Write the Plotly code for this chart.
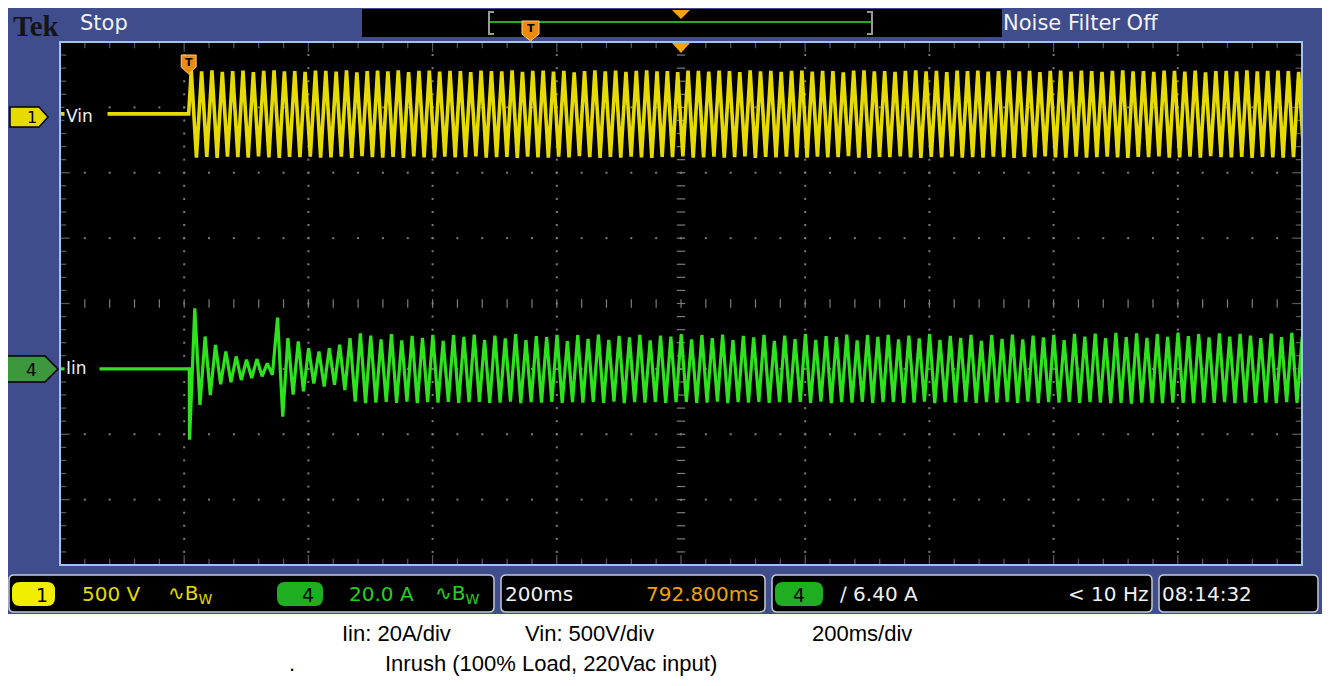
import plotly.graph_objects as go

# ---------------- data ----------------
TIME_WINDOW_MS = [-207.2, 1792.8]      # 10 div x 200 ms/div, trigger at t = 0
HALF_PERIOD_MS = 8.333                 # mains half cycle (60 Hz)
VOLTS_PER_DIV = 500.0
AMPS_PER_DIV = 20.0
VIN_GROUND_DIV = 2.9                   # ch1 ground marker (div above centre)
IIN_GROUND_DIV = -1.0                  # ch4 ground marker
IIN_START_MS = 1.5

# Vin: successive positive / negative crest values (V)
VIN_POS_PEAKS_V = [
    330, 326, 333, 321, 328, 331, 319, 329, 334, 325,
    327, 322, 332, 329, 324, 333, 318, 328, 331, 326,
    333, 320, 329, 332, 323, 330, 327, 319, 331, 328,
    325, 333, 321, 329, 332, 324, 330, 318, 328, 333,
    326, 331, 322, 329, 334, 325, 327, 320, 332, 329,
    323, 331, 328, 319, 333, 326, 330, 322, 329, 332,
    324, 330, 327, 318, 331, 333, 325, 328, 321, 330,
    334, 326, 329, 320, 332, 327, 331, 323, 328, 333,
    325, 330, 319, 329, 332, 324, 331, 327, 322, 330,
    333, 326, 328, 321, 331, 329, 324, 332, 318, 328,
    330, 326, 333, 325, 329, 331, 327, 322, 330, 328,
]
VIN_NEG_PEAKS_V = [
    -334, -329, -336, -327, -331, -335, -324, -332, -337, -328,
    -330, -326, -335, -332, -327, -336, -323, -331, -334, -329,
    -336, -325, -332, -335, -326, -333, -330, -324, -334, -331,
    -328, -336, -326, -332, -335, -327, -333, -323, -331, -336,
    -329, -334, -326, -332, -337, -328, -330, -325, -335, -332,
    -326, -334, -331, -324, -336, -329, -333, -326, -332, -335,
    -327, -333, -330, -323, -334, -336, -328, -331, -325, -333,
    -337, -329, -332, -325, -335, -330, -334, -326, -331, -336,
    -328, -333, -324, -332, -335, -327, -334, -330, -326, -333,
    -336, -329, -331, -325, -334, -332, -327, -335, -323, -331,
    -333, -329, -336, -328, -332, -334, -330, -326, -333, -331,
]

# Iin: successive half-cycle extremes (A), starting at the inrush spike
IIN_PEAKS_A = [
    -21.7, 18.5, -11.0, 9.9, -8.0, 7.3, -4.7, 5.3, -4.1, 3.8,
    -3.4, 2.8, -2.8, 3.0, -2.3, 1.7, -1.8, 15.7, -14.6, 9.4,
    -7.9, 8.4, -6.9, 6.3, -4.5, 5.3, -5.4, 6.3, -4.9, 7.4,
    -6.5, 9.4, -10.0, 10.9, -10.5,
    10.2, -10.3, 9.0, -10.1, 10.6, -10.4, 8.7, -10.0, 10.1, -10.5,
    9.5, -10.2, 10.4, -10.3, 8.6, -10.1, 10.3, -10.4, 9.8, -10.2,
    10.5, -10.1, 8.9, -10.4, 10.2, -10.3, 9.3, -10.0, 10.6, -10.5,
    8.8, -10.2, 10.0, -10.3, 9.7, -10.1, 10.4, -10.4, 8.5, -10.2,
    10.3, -10.3, 9.2, -10.1, 10.5, -10.4, 8.9, -10.0, 10.1, -10.5,
    9.6, -10.2, 10.4, -10.3, 8.7, -10.1, 10.2, -10.4, 9.9, -10.2,
    10.6, -10.1, 9.0, -10.4, 10.3, -10.3, 9.4, -10.0, 10.5, -10.5,
    8.8, -10.2, 10.1, -10.3, 9.6, -10.1, 10.4, -10.4, 8.6, -10.2,
    10.2, -10.3, 9.1, -10.1, 10.6, -10.4, 8.9, -10.0, 10.0, -10.5,
    9.7, -10.2, 10.5, -10.3, 8.7, -10.1, 10.3, -10.4, 9.8, -10.2,
    10.4, -10.1, 9.0, -10.4, 10.2, -10.3, 9.3, -10.0, 10.6, -10.5,
    8.9, -10.2, 10.1, -10.3, 9.5, -10.1, 10.4, -10.4, 8.6, -10.2,
    10.3, -10.3, 9.2, -10.1, 10.5, -10.4, 9.0, -10.0, 10.2, -10.5,
    9.6, -10.2, 10.4, -10.3, 8.8, -10.1, 10.7, -10.4, 9.9, -10.2,
    10.8, -10.3, 9.4, -10.5, 11.0, -10.4, 9.7, -10.6, 10.9, -10.3,
    9.5, -10.4, 10.6, -10.5, 9.8, -10.3, 11.1, -10.4, 10.0, -10.5,
    10.6, -10.3, 9.6, -10.4, 10.9, -10.2, 9.9, -10.5, 10.7, -10.3,
    10.2, -10.4, 9.4, -10.3, 10.8, -10.5, 9.7, -10.2, 11.0, -10.4,
    9.8, -10.3, 10.5, -10.5, 9.5, -10.2, 10.9, -10.4, 10.1, -10.3,
]

# ---------------- colours / geometry ----------------
W, H = 1330, 686
OFF = 8                                     # page margin around the figure
PL, PR, PT, PB = 60, 1302, 42, 565          # graticule box in screenshot pixels
BLUE = "#3f4d8c"
YEL = "#e6da00"
GRN = "#2ee21e"
ORANGE = "#ee8a12"
GOLD = "#f2a413"
GRID = "#7c7c7c"
BORDER = "#9fc4ec"
UI_FONT = "DejaVu Sans"
CAP_FONT = "Liberation Sans, Arial"

t0, t1 = TIME_WINDOW_MS
ms_per_div = (t1 - t0) / 10.0


def fx(px):
    return (px - PL) / (PR - PL)


def fy(py):
    return (PB - py) / (PB - PT)


def ppath(points, close=True):
    s = "M " + " L ".join(f"{fx(x):.5f},{fy(y):.5f}" for x, y in points)
    return s + (" Z" if close else "")


def rrect(x0, y0, x1, y1, r):
    p = [
        ("M", x0 + r, y0), ("L", x1 - r, y0), ("Q", x1, y0, x1, y0 + r),
        ("L", x1, y1 - r), ("Q", x1, y1, x1 - r, y1), ("L", x0 + r, y1),
        ("Q", x0, y1, x0, y1 - r), ("L", x0, y0 + r), ("Q", x0, y0, x0 + r, y0),
    ]
    out = []
    for seg in p:
        c = seg[0]
        coords = seg[1:]
        pts = " ".join(f"{fx(coords[i]):.5f},{fy(coords[i + 1]):.5f}" for i in range(0, len(coords), 2))
        out.append(f"{c} {pts}")
    return " ".join(out) + " Z"


# ---------------- waveforms ----------------
vin_t = [t0, 0.0]
vin_y = [VIN_GROUND_DIV, VIN_GROUND_DIV]
for k in range(len(VIN_POS_PEAKS_V) + len(VIN_NEG_PEAKS_V)):
    v = VIN_POS_PEAKS_V[k // 2] if k % 2 == 0 else VIN_NEG_PEAKS_V[k // 2]
    vin_t.append(HALF_PERIOD_MS / 2 + k * HALF_PERIOD_MS)
    vin_y.append(VIN_GROUND_DIV + v / VOLTS_PER_DIV)

iin_t = [t0, IIN_START_MS - 0.5]
iin_y = [IIN_GROUND_DIV, IIN_GROUND_DIV]
for k, a in enumerate(IIN_PEAKS_A):
    iin_t.append(IIN_START_MS + k * HALF_PERIOD_MS)
    iin_y.append(IIN_GROUND_DIV + a / AMPS_PER_DIV)

fig = go.Figure()


# ---------------- graticule ----------------
def tdiv(d):
    return t0 + d * ms_per_div


minor_y = [-4 + 0.2 * j for j in range(41)]
minor_x = [0.2 * j for j in range(51)]
gx, gy = [], []
for i in range(1, 10):
    if i == 5:
        continue
    for y in minor_y:
        gx.append(tdiv(i)); gy.append(y)
for yl in range(-3, 4):
    if yl == 0:
        continue
    for x in minor_x:
        gx.append(tdiv(x)); gy.append(yl)
fig.add_trace(go.Scatter(x=gx, y=gy, mode="markers", hoverinfo="skip",
                         marker=dict(symbol="square", size=2, color=GRID)))

# centre cross ticks
cx = [tdiv(5)] * len(minor_y)
fig.add_trace(go.Scatter(x=cx, y=minor_y, mode="markers", hoverinfo="skip",
                         marker=dict(symbol="line-ew", size=6, line=dict(width=1.2, color=GRID))))
fig.add_trace(go.Scatter(x=[tdiv(x) for x in minor_x], y=[0] * len(minor_x), mode="markers",
                         hoverinfo="skip",
                         marker=dict(symbol="line-ns", size=6, line=dict(width=1.2, color=GRID))))
# edge ticks
ex, ey, es = [], [], []
for x in minor_x:
    for yy in (-4, 4):
        ex.append(tdiv(x)); ey.append(yy); es.append(14 if abs(x - round(x)) < 1e-6 else 9)
fig.add_trace(go.Scatter(x=ex, y=ey, mode="markers", hoverinfo="skip",
                         marker=dict(symbol="line-ns", size=es, line=dict(width=1.3, color=GRID))))
ex, ey, es = [], [], []
for y in minor_y:
    for xx in (0, 10):
        ex.append(tdiv(xx)); ey.append(y); es.append(14 if abs(y - round(y)) < 1e-6 else 9)
fig.add_trace(go.Scatter(x=ex, y=ey, mode="markers", hoverinfo="skip",
                         marker=dict(symbol="line-ew", size=es, line=dict(width=1.3, color=GRID))))

# ---------------- traces ----------------
fig.add_trace(go.Scatter(x=vin_t, y=vin_y, mode="lines", name="Vin",
                         line=dict(color=YEL, width=3.6), hoverinfo="skip"))
fig.add_trace(go.Scatter(x=iin_t, y=iin_y, mode="lines", name="Iin",
                         line=dict(color=GRN, width=3.2), hoverinfo="skip"))

shapes = []
ann = []

# blue instrument background and black screen (both under the traces)
shapes.append(dict(type="rect", xref="paper", yref="paper", layer="below",
                   x0=fx(OFF), x1=fx(1323), y0=fy(614), y1=fy(OFF),
                   fillcolor=BLUE, line=dict(width=0)))
shapes.append(dict(type="rect", xref="paper", yref="paper", layer="below",
                   x0=0, x1=1, y0=0, y1=1, fillcolor="black", line=dict(width=0)))
# graticule border
shapes.append(dict(type="rect", xref="paper", yref="paper", layer="above",
                   x0=0, x1=1, y0=0, y1=1, line=dict(color=BORDER, width=2)))

# top record bar
shapes.append(dict(type="rect", xref="paper", yref="paper", layer="above",
                   x0=fx(362), x1=fx(1002), y0=fy(37), y1=fy(9),
                   fillcolor="black", line=dict(width=0)))
shapes.append(dict(type="line", xref="paper", yref="paper", x0=fx(490), x1=fx(872),
                   y0=fy(22), y1=fy(22), line=dict(color="#1fae1f", width=2)))
for xb, d in ((489, 1), (872, -1)):
    shapes.append(dict(type="path", xref="paper", yref="paper",
                       path=ppath([(xb + 5 * d, 12), (xb, 12), (xb, 34), (xb + 5 * d, 34)], close=False),
                       line=dict(color="#9a9a9a", width=2)))
shapes.append(dict(type="path", xref="paper", yref="paper", fillcolor=GOLD, line=dict(width=0),
                   path=ppath([(672, 10), (690, 10), (681, 19)])))
shapes.append(dict(type="path", xref="paper", yref="paper", fillcolor=ORANGE,
                   line=dict(color="#ffcf80", width=1),
                   path=ppath([(522, 21), (539, 21), (539, 34), (530.5, 41), (522, 34)])))
ann.append(dict(x=fx(530.5), y=fy(28), text="<b>T</b>", font=dict(size=11, color="black", family=UI_FONT)))

# top graticule trigger-position triangle and trigger marker
shapes.append(dict(type="path", xref="paper", yref="paper", fillcolor=GOLD, line=dict(width=0),
                   path=ppath([(672, 43), (690, 43), (681, 53)])))
shapes.append(dict(type="path", xref="x", yref="paper", fillcolor=ORANGE,
                   line=dict(color="#ffcf80", width=1),
                   path="M {a},{t} L {b},{t} L {b},{m} L {c},{bt} L {a},{m} Z".format(
                       a=-12.0, b=12.0, c=0.0, t=fy(55), m=fy(67), bt=fy(74))))
ann.append(dict(x=0.0, xref="x", y=fy(62), text="<b>T</b>",
                font=dict(size=11, color="black", family=UI_FONT)))

ann.append(dict(x=fx(11), y=fy(OFF), xanchor="left", yanchor="top", text="<b>Tek</b>",
                font=dict(size=29, color="#151515", family="Liberation Serif, DejaVu Serif")))
ann.append(dict(x=fx(78), y=fy(23), xanchor="left", text="Stop",
                font=dict(size=21, color="#f2f2f2", family=UI_FONT)))
ann.append(dict(x=fx(1001), y=fy(23), xanchor="left", text="Noise Filter Off",
                font=dict(size=21, color="#f2f2f2", family=UI_FONT)))

# channel markers on the left
shapes.append(dict(type="path", xref="paper", yref="paper", fillcolor=YEL,
                   line=dict(color="black", width=1.5),
                   path=ppath([(10, 107), (39, 107), (48, 117), (39, 127), (10, 127)])))
ann.append(dict(x=fx(25), y=fy(117.5), text="1", font=dict(size=16, color="black", family=UI_FONT)))
shapes.append(dict(type="path", xref="paper", yref="paper", fillcolor="#3d973d",
                   line=dict(color="black", width=1.5),
                   path=ppath([(6, 356), (45, 356), (58, 369), (45, 382), (6, 382)])))
ann.append(dict(x=fx(24), y=fy(369.5), text="4", font=dict(size=17, color="black", family=UI_FONT)))
ann.append(dict(x=fx(64), y=fy(116), xanchor="left", text="Vin", width=40, align="left",
                bgcolor="black", borderpad=1, font=dict(size=17, color="#f0f0f0", family=UI_FONT)))
ann.append(dict(x=fx(64), y=fy(368), xanchor="left", text="Iin", width=32, align="left",
                bgcolor="black", borderpad=1, font=dict(size=17, color="#f0f0f0", family=UI_FONT)))

# bottom status bar boxes
for x0b, x1b in ((OFF, 494), (500, 765), (771, 1152), (1158, 1318)):
    shapes.append(dict(type="path", xref="paper", yref="paper", fillcolor="black",
                       line=dict(color="#c4c8d4", width=1.5), path=rrect(x0b + 1, 575, x1b, 612, 5)))
for x0b, x1b, col in ((12, 55, "#f2ee00"), (277, 323, "#1fae1f"), (775, 823, "#1fae1f")):
    shapes.append(dict(type="path", xref="paper", yref="paper", fillcolor=col,
                       line=dict(width=0), path=rrect(x0b, 582, x1b, 606, 8)))
ann.append(dict(x=fx(33.5), y=fy(594.5), text="1", font=dict(size=19, color="black", family=UI_FONT)))
ann.append(dict(x=fx(300), y=fy(594.5), text="4", font=dict(size=19, color="black", family=UI_FONT)))
ann.append(dict(x=fx(799), y=fy(594.5), text="4", font=dict(size=19, color="black", family=UI_FONT)))

status = [
    (80, "left", "500 V", YEL),
    (166, "left", "∿B<sub>W</sub>", YEL),
    (347, "left", "20.0 A", "#22d21a"),
    (433, "left", "∿B<sub>W</sub>", "#22d21a"),
    (503, "left", "200ms", "#f2f2f2"),
    (761, "right", "792.800ms", "#f0a010"),
    (838, "left", "∕ 6.40 A", "#f2f2f2"),
    (1150, "right", "< 10 Hz", "#f2f2f2"),
    (1160, "left", "08:14:32", "#f2f2f2"),
]
for xp, anc, txt, col in status:
    ann.append(dict(x=fx(xp), y=fy(594), xanchor=anc, text=txt,
                    font=dict(size=20, color=col, family=UI_FONT)))

# captions under the screenshot
captions = [
    (340, 633, "Iin: 20A/div"),
    (523, 633, "Vin: 500V/div"),
    (810, 633, "200ms/div"),
    (287, 663, "."),
    (383, 663, "Inrush (100% Load, 220Vac input)"),
]
for xp, yp, txt in captions:
    ann.append(dict(x=fx(xp), y=fy(yp), xanchor="left", text=txt,
                    font=dict(size=22, color="black", family=CAP_FONT)))

for a in ann:
    a.setdefault("xref", "paper")
    a.setdefault("yref", "paper")
    a.setdefault("showarrow", False)
    a.setdefault("yanchor", "middle")

fig.update_layout(
    width=W, height=H, autosize=False,
    margin=dict(l=PL - OFF, r=W - (PR - OFF), t=PT - OFF, b=H - (PB - OFF), pad=0),
    paper_bgcolor="white", plot_bgcolor="black",
    showlegend=False,
    xaxis=dict(range=[t0, t1], showgrid=False, zeroline=False, showticklabels=False,
               showline=False, ticks="", fixedrange=True),
    yaxis=dict(range=[-4, 4], showgrid=False, zeroline=False, showticklabels=False,
               showline=False, ticks="", fixedrange=True),
    shapes=shapes, annotations=ann,
)

fig.write_html("out.html")
